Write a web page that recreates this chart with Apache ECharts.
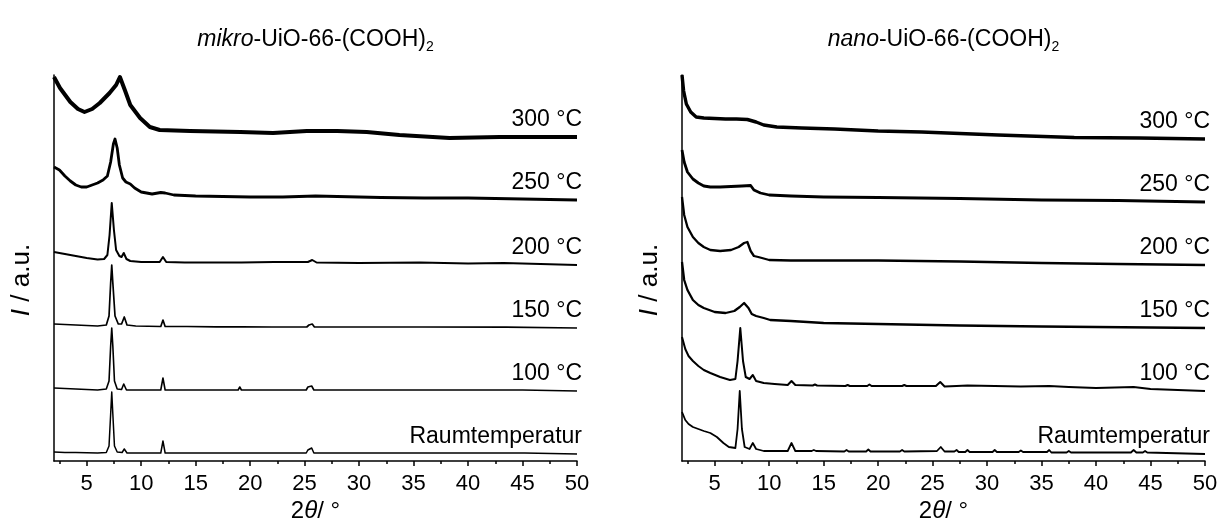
<!DOCTYPE html>
<html>
<head>
<meta charset="utf-8">
<script src="https://cdn.jsdelivr.net/npm/echarts@6/dist/echarts.min.js"></script>
<style>
  html, body { margin: 0; padding: 0; background: #fff; }
  #chart { width: 1224px; height: 528px; }
</style>
</head>
<body>
<div id="chart"></div>
<script>
const FONT = "Liberation Sans, Arial, sans-serif";

const panelPrefixes = ["mikro", "nano"];
const curveLabels = ["Raumtemperatur", "100 °C", "150 °C", "200 °C", "250 °C", "300 °C"];
const xTickLabels = [5, 10, 15, 20, 25, 30, 35, 40, 45, 50];
const xMinorTicks = [2.5, 7.5, 12.5, 17.5, 22.5, 27.5, 32.5, 37.5, 42.5, 47.5];

// baseline of each stacked pattern (a.u.), bottom to top
const mikroOffsets = [7, 70, 133, 196, 261, 324];
const nanoOffsets = [7, 70, 133, 196, 259, 322];

// [2θ, I above own baseline]
const mikroRT = [[2,2],[3,1.5],[4,1.5],[5,1.2],[6,1],[6.8,1.5],[7.05,8],[7.2,40],[7.3,62],[7.4,40],[7.55,8],[7.8,2],[8.25,1.5],[8.45,5],[8.7,1],[11.8,1],[12.0,13],[12.2,1],[13.9,1],[14.05,2.5],[14.2,1],[16.9,1],[17.05,3],[17.2,1],[18.9,1],[19.05,3],[19.2,1],[22.0,1],[22.15,3],[22.3,1],[25.15,1],[25.3,4],[25.45,2],[25.65,6],[25.85,1],[26.9,1],[27.05,3],[27.2,1],[28.0,1],[28.15,3],[28.3,1],[30.45,1],[30.6,3],[30.75,1],[32.9,1],[33.05,2],[33.2,1],[35.5,1],[35.65,3],[35.8,1],[37.3,1],[37.45,2],[37.6,1],[39.2,1],[39.35,2],[39.5,1],[40.9,1],[41.05,2],[41.2,1],[43.2,1],[43.35,3],[43.5,1],[44.3,1],[44.45,2],[44.6,1],[44.9,1],[45.05,2],[45.2,1],[50,0]];
const mikro100 = [[2,3],[3,2.5],[4,2],[5,1.5],[6,1],[6.8,2],[7.05,10],[7.2,45],[7.3,63],[7.4,45],[7.55,10],[7.8,2],[8.2,1.5],[8.4,7],[8.65,1],[11.8,1],[12.0,13],[12.2,1],[13.9,1],[14.05,2.5],[14.2,1],[16.9,1],[17.05,3],[17.2,1],[18.9,1],[19.05,4],[19.2,1],[22.0,1],[22.15,3],[22.3,1],[25.15,1],[25.3,4],[25.45,2],[25.65,5],[25.85,1],[26.9,1],[27.05,2.5],[27.2,1],[28.0,1],[28.15,2.5],[28.3,1],[30.45,1],[30.6,3],[30.75,1],[32.9,1],[33.05,2],[33.2,1],[35.5,1],[35.65,3],[35.8,1],[37.3,1],[37.45,2],[37.6,1],[39.2,1],[39.35,2],[39.5,1],[43.2,1],[43.35,3],[43.5,1],[44.3,1],[44.45,2.5],[44.6,1],[45,1],[50,0]];
const mikro150 = [[2,4],[3,3.5],[4,3],[5,2.5],[6,2],[6.8,3],[7.05,12],[7.2,45],[7.3,63],[7.4,45],[7.6,12],[7.9,4],[8.2,4],[8.45,11],[8.7,3],[9.5,2],[11.8,1.5],[12.0,8],[12.2,1.5],[13.9,1.5],[14.05,2.5],[14.2,1.5],[16.9,1.2],[17.05,2.5],[17.2,1.2],[18.9,1.2],[19.05,2.5],[19.2,1.2],[22.0,1],[22.15,2],[22.3,1],[25.2,1],[25.4,3],[25.55,2],[25.7,4],[25.9,1],[27.0,1],[27.1,2],[27.2,1],[30.5,1],[30.65,2],[30.8,1],[35.5,1],[35.65,2],[35.8,1],[43.2,0.8],[43.35,2],[43.5,0.8],[50,0]];
const mikro200 = [[2,13],[2.5,12],[3,11],[4,9],[5,7],[6,5.5],[6.6,6],[6.9,10],[7.1,30],[7.3,62],[7.5,35],[7.7,15],[8.0,9],[8.2,8],[8.4,12],[8.65,6],[9.0,4],[10,3],[11.7,3],[12.0,8],[12.3,3],[14,2.5],[16.9,2.5],[17.05,3.5],[17.2,2.5],[18.9,2.5],[19.05,3.5],[19.2,2.5],[22.2,3],[25.3,3],[25.7,5],[26.1,2.5],[30,2],[35.6,2.5],[40,1.5],[43.3,2],[50,0]];
const mikro250 = [[2,33],[2.5,30],[3,24],[3.5,19],[4,15],[4.5,13],[5,13],[5.5,15],[6,17],[6.5,20],[6.9,24],[7.2,38],[7.45,56],[7.6,61],[7.8,52],[8.0,35],[8.3,22],[8.6,18],[9.0,16],[9.4,12],[10,8],[11,6],[11.8,7.5],[12.2,7],[13,5],[15,4],[20,3],[23,3],[26,4],[28,3.5],[32,2.5],[36,2],[40,2],[45,1],[50,0]];
const mikro300 = [[2,60],[2.55,49],[3.5,35],[4.2,28],[4.8,25],[5.5,28],[6.2,34],[7.1,44],[7.7,52],[8.05,60],[8.5,47],[9.0,32],[9.9,19],[10.8,10],[11.7,7],[14.5,6],[19.1,5],[22.1,4],[25.2,6],[28,6],[30.7,5],[33.7,2],[38.3,-1],[42.9,0],[50,0]];

const nanoRT = [[2,42],[2.3,34],[2.6,30],[3,27],[3.5,25],[4,23],[4.6,21],[5.2,17],[5.8,11],[6.3,7],[6.9,6],[7.1,25],[7.3,63],[7.5,25],[7.75,7],[8.2,5],[8.5,11],[8.8,5],[9.5,3],[11.7,3],[12.05,11],[12.4,3],[13.9,3],[14.1,4],[14.3,3],[16.9,2.5],[17.1,4],[17.3,2.5],[18.9,2.5],[19.1,4.5],[19.3,2.5],[22.0,2.5],[22.2,4],[22.4,2.5],[25.4,3],[25.75,7],[26.1,2.5],[27.0,2.5],[27.2,4],[27.4,2],[28.0,2],[28.2,4],[28.4,2],[30.5,2],[30.7,4],[30.9,2],[32.9,2],[33.1,3.5],[33.3,2],[35.5,2],[35.7,4],[35.9,1.5],[37.3,1.5],[37.5,3],[37.7,1.5],[43.2,1.5],[43.45,4],[43.7,1.5],[44.3,1.5],[44.5,3],[44.7,1.5],[50,0]];
const nano100 = [[2,54],[2.3,42],[2.6,35],[3,30],[3.5,25],[4,21],[4.6,18],[5.5,14],[6.4,11],[6.9,12],[7.1,30],[7.35,63],[7.6,30],[7.85,14],[8.2,12],[8.5,16],[8.8,10],[9.5,8],[10.5,7],[11.7,6],[12.05,10],[12.4,6],[14.0,5.5],[14.2,6.5],[14.4,5.5],[17.0,5],[17.2,6],[17.4,5],[19.0,5],[19.2,6.5],[19.4,5],[22.2,5],[22.4,6],[22.6,5],[25.3,5],[25.7,9],[26.1,4.5],[27.2,5],[28.2,5.5],[30.7,5],[33.1,4.5],[35.7,5],[37.5,4],[40,3],[43.45,4],[45,2],[50,0]];
const nano150 = [[2,66],[2.2,48],[2.5,38],[3,28],[3.5,23],[4,20],[5,16],[6,15],[6.8,17],[7.3,21],[7.7,25],[8.1,20],[8.4,14],[8.8,12],[9.5,10],[10.1,8],[12,7],[15,5],[20,4],[27.5,2.5],[35,1.5],[50,0]];
const nano200 = [[2,68],[2.2,50],[2.5,38],[3,28],[3.5,22],[4,18],[4.6,15],[5.5,14],[6.5,15],[7.2,18],[7.7,22],[8.0,23],[8.3,14],[8.6,9],[9.0,8],[10,5],[12,4.5],[15,4.5],[20,4.5],[27.5,3.5],[35,2],[42,1],[50,0]];
const nano250 = [[2,52],[2.2,40],[2.5,30],[3,23],[3.5,19],[4,16],[4.6,15],[5.5,15],[6.5,15.5],[7.5,16],[8.3,16.5],[8.6,12],[9.2,9],[10,7],[12,6],[15,5],[20,4.5],[27.5,3.5],[35,2],[42,1.5],[50,0]];
const nano300 = [[2,64],[2.15,48],[2.4,35],[2.8,27],[3.3,22],[4,21],[5,20.5],[6,20],[7,20],[8,19.5],[8.8,17],[9.5,14],[10.7,12],[13,11],[16,10],[20,8],[24,7],[27.5,5.5],[31,4],[38,1.5],[44,1],[50,0]];

const mikroCurves = [mikroRT, mikro100, mikro150, mikro200, mikro250, mikro300];
const nanoCurves = [nanoRT, nano100, nano150, nano200, nano250, nano300];

const mikroWidths = [1.5, 1.6, 1.7, 2, 2.8, 4];
const nanoWidths = [1.8, 2, 2.3, 2.3, 2.8, 3.4];

const grids = [
  { left: 54, top: 75, width: 523, height: 386 },
  { left: 682, top: 75, width: 523, height: 386 }
];

function buildXAxes(gridIndex) {
  const axisColor = "#000";
  return [
    {
      gridIndex,
      type: "value",
      min: 2,
      max: 50,
      position: "bottom",
      axisLine: { lineStyle: { color: axisColor, width: 1.5 } },
      axisTick: { customValues: xTickLabels, length: 5, lineStyle: { color: axisColor, width: 1.5 } },
      axisLabel: { customValues: xTickLabels, color: "#000", fontSize: 22, fontFamily: FONT, margin: 12 },
      splitLine: { show: false }
    },
    {
      gridIndex,
      type: "value",
      min: 2,
      max: 50,
      position: "bottom",
      axisLine: { show: false },
      axisTick: { customValues: xMinorTicks, length: 3, lineStyle: { color: axisColor, width: 1.5 } },
      axisLabel: { show: false },
      splitLine: { show: false }
    }
  ];
}

function buildYAxis(gridIndex) {
  return {
    gridIndex,
    type: "value",
    min: 0,
    max: 386,
    axisLine: { show: true, lineStyle: { color: "#000", width: 1.5 } },
    axisTick: { show: false },
    axisLabel: { show: false },
    splitLine: { show: false }
  };
}

function buildSeries(curves, offsets, widths, gridIndex) {
  return curves.map((points, i) => ({
    type: "line",
    name: curveLabels[i],
    xAxisIndex: gridIndex * 2,
    yAxisIndex: gridIndex,
    data: points.map(([x, y]) => [x, y + offsets[i]]),
    showSymbol: false,
    symbol: "none",
    silent: true,
    lineStyle: { color: "#000", width: widths[i], join: "round" },
    markPoint: {
      silent: true,
      symbol: "circle",
      symbolSize: 0,
      data: [{ coord: [50, offsets[i] + 17] }],
      label: {
        show: true,
        position: "left",
        distance: 0,
        offset: [5, 0],
        formatter: curveLabels[i],
        color: "#000",
        fontSize: 23,
        fontFamily: FONT
      }
    }
  }));
}

const textBase = { fill: "#000", fontFamily: FONT };

const graphics = [];
grids.forEach((g, i) => {
  const cx = g.left + g.width / 2;
  graphics.push({
    type: "text",
    x: cx,
    y: 40,
    style: Object.assign({}, textBase, {
      text: `{it|${panelPrefixes[i]}}{n|-UiO-66-(COOH)}{sub|2}`,
      align: "center",
      verticalAlign: "middle",
      rich: {
        it: { fontStyle: "italic", fontSize: 23, fontFamily: FONT, fill: "#000", lineHeight: 28 },
        n: { fontSize: 23, fontFamily: FONT, fill: "#000", lineHeight: 28 },
        sub: { fontSize: 14, fontFamily: FONT, fill: "#000", verticalAlign: "bottom", lineHeight: 28 }
      }
    })
  });
  graphics.push({
    type: "text",
    x: cx,
    y: 511,
    style: Object.assign({}, textBase, {
      text: "{n|2}{it|θ}{n|/ °}",
      align: "center",
      verticalAlign: "middle",
      rich: {
        it: { fontStyle: "italic", fontSize: 24, fontFamily: FONT, fill: "#000" },
        n: { fontSize: 24, fontFamily: FONT, fill: "#000" }
      }
    })
  });
  graphics.push({
    type: "text",
    x: g.left - 32,
    y: 280,
    rotation: Math.PI / 2,
    style: Object.assign({}, textBase, {
      text: "{it|I}{n| / a.u.}",
      align: "center",
      verticalAlign: "middle",
      rich: {
        it: { fontStyle: "italic", fontSize: 26, fontFamily: FONT, fill: "#000" },
        n: { fontSize: 26, fontFamily: FONT, fill: "#000" }
      }
    })
  });
});

const chart = echarts.init(document.getElementById("chart"), null, { renderer: "canvas" });
chart.setOption({
  animation: false,
  backgroundColor: "#fff",
  grid: grids,
  xAxis: [...buildXAxes(0), ...buildXAxes(1)],
  yAxis: [buildYAxis(0), buildYAxis(1)],
  series: [
    ...buildSeries(mikroCurves, mikroOffsets, mikroWidths, 0),
    ...buildSeries(nanoCurves, nanoOffsets, nanoWidths, 1)
  ],
  graphic: graphics
});
</script>
</body>
</html>
